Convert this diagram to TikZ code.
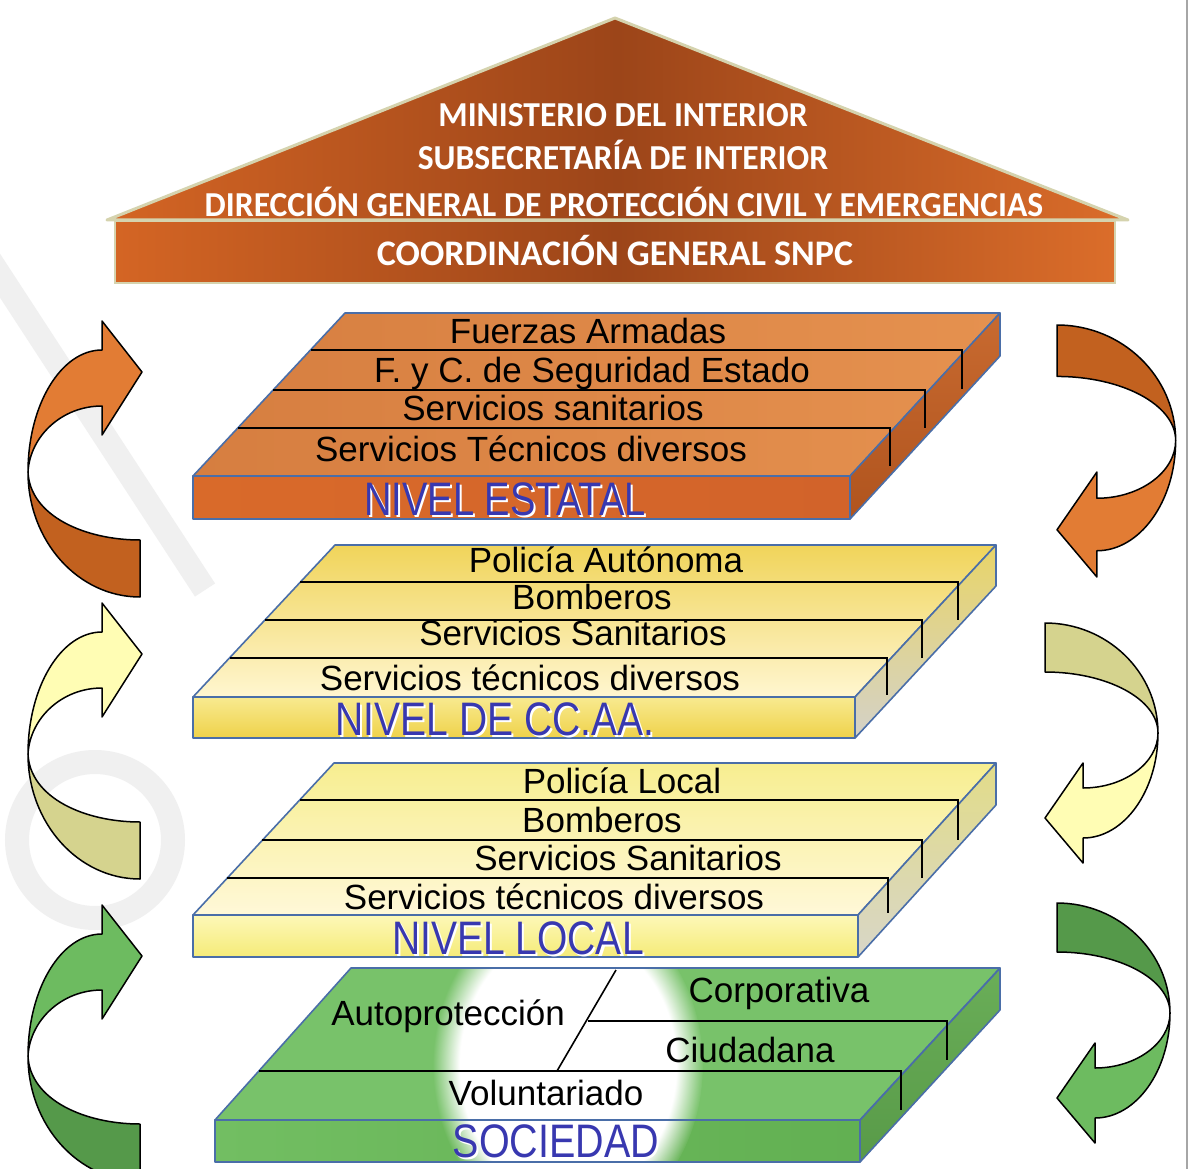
\documentclass[tikz,border=0pt]{standalone}
\usepackage{fontspec}
\setmainfont{Liberation Sans}
\newfontfamily\rooffont{Carlito}
\usepackage{graphicx}
\usetikzlibrary{fadings}

\definecolor{roofL}{HTML}{D46524}
\definecolor{roofM}{HTML}{9C4519}
\definecolor{roofR}{HTML}{DB6D2A}
\definecolor{roofedge}{HTML}{D5D3AE}
\definecolor{slabblue}{HTML}{4A6EA8}
\definecolor{lvlblue}{HTML}{3838B0}
\definecolor{oTopL}{HTML}{D67E40}
\definecolor{oTopM}{HTML}{BE6830}
\definecolor{oTopR}{HTML}{E5914F}
\definecolor{oFrL}{HTML}{D96A2A}
\definecolor{oFrM}{HTML}{B5551E}
\definecolor{oFrR}{HTML}{D2632A}
\definecolor{oSdT}{HTML}{C86A30}
\definecolor{oSdB}{HTML}{B0541E}
\definecolor{yTopT}{HTML}{F0D45A}
\definecolor{yTopB}{HTML}{FFF6D0}
\definecolor{yFrT}{HTML}{F8EA90}
\definecolor{yFrB}{HTML}{EFD24A}
\definecolor{ySdT}{HTML}{E8D468}
\definecolor{ySdB}{HTML}{D4D2C8}
\definecolor{lTopT}{HTML}{F7EE90}
\definecolor{lTopM}{HTML}{FFFFF4}
\definecolor{lTopB}{HTML}{FFF8D8}
\definecolor{lFrT}{HTML}{FDF8B8}
\definecolor{lFrB}{HTML}{F5EB78}
\definecolor{lSdT}{HTML}{E2DC88}
\definecolor{lSdB}{HTML}{D8D6C8}
\definecolor{gTop}{HTML}{78C26A}
\definecolor{gFrL}{HTML}{72BE62}
\definecolor{gFrR}{HTML}{62B052}
\definecolor{gSdT}{HTML}{6AAE58}
\definecolor{gSdB}{HTML}{589A48}
\definecolor{aOrL}{HTML}{E27C34}
\definecolor{aOrD}{HTML}{C2611F}
\definecolor{aYeL}{HTML}{FFFDB4}
\definecolor{aYeD}{HTML}{D5D38E}
\definecolor{aGrL}{HTML}{6DBB60}
\definecolor{aGrD}{HTML}{55994A}
\definecolor{wmgray}{HTML}{F0F0F0}

\tikzset{
  rowtxt/.style={anchor=base, inner sep=0pt, font=\fontsize{35}{40}\selectfont},
  lvltxt/.style={anchor=base, inner sep=0pt, text=lvlblue, font=\fontsize{47}{50}\selectfont},
  lvlshadow/.style={anchor=base, inner sep=0pt, text=white, font=\fontsize{47}{50}\selectfont},
  rooftxt/.style={anchor=base, inner sep=0pt, text=white, font=\rooffont\bfseries\fontsize{35}{40}\selectfont},
  slabedge/.style={draw=slabblue, line width=1.6pt, line join=round},
  rowline/.style={draw=black, line width=1.6pt},
  arrowpiece/.style={draw=black, line width=1.5pt, line join=round},
  wm/.style={draw=wmgray, line width=24pt},
}

\newcommand\LeftCurl[3]{%
  \begin{scope}[shift={(0,#1)}]
    \path[arrowpiece, fill=#3] (140,219) .. controls (85,219) and (30,195) .. (28,151)
      .. controls (28,220) and (78,276) .. (140,276) -- cycle;
    \path[arrowpiece, fill=#2] (28,151) .. controls (28,84) and (61,29) .. (102,29)
      -- (102,0) -- (142,51) -- (102,114) -- (102,85)
      .. controls (62,85) and (30,115) .. (28,151) -- cycle;
  \end{scope}}

\newcommand\RightCurl[5]{%
  \begin{scope}[shift={(#1,#2)}, scale=#3]
    \path[arrowpiece, fill=#4] (0,0) .. controls (62,0) and (113,49) .. (113,110)
      .. controls (113,76) and (62,49) .. (0,49) -- cycle;
    \path[arrowpiece, fill=#5] (113,110) .. controls (113,168) and (79,215) .. (38,215)
      -- (38,240) -- (0,195) -- (38,140) -- (38,165)
      .. controls (79,165) and (113,140) .. (113,110) -- cycle;
  \end{scope}}

\begin{document}
\begin{tikzpicture}[x=1pt, y=-1pt]
\useasboundingbox (0,0) rectangle (1191,1169);
\fill[white] (0,0) rectangle (1191,1169);

% watermark remnants
\draw[wm] (-20,245) -- (205,590);
\draw[wm] (95,840) circle (78);

% right border line
\draw[gray!70, line width=1.2pt] (1187,0) -- (1187,1169);

% ---------- roof ----------
\path[left color=roofL, right color=roofR, middle color=roofM, draw=roofedge, line width=1.2pt]
  (115,221) rectangle (1115,283);
\path[left color=roofL, right color=roofR, middle color=roofM]
  (107,220) -- (615,18) -- (1128,220) -- cycle;
\draw[roofedge, line width=3pt, line join=round] (107,220) -- (615,18) -- (1128,220) -- cycle;

\node[rooftxt] (r1) at (623,127) {\scalebox{0.96}[1]{MINISTERIO DEL INTERIOR}};
\node[rooftxt] (r2) at (623,170) {\scalebox{0.96}[1]{SUBSECRETARÍA DE INTERIOR}};
\node[rooftxt] (r3) at (624,216) {\scalebox{0.96}[1]{DIRECCIÓN GENERAL DE PROTECCIÓN CIVIL Y EMERGENCIAS}};
\node[rooftxt, font=\rooffont\bfseries\fontsize{36}{40}\selectfont] (r4) at (615,265) {COORDINACIÓN GENERAL SNPC};

% ---------- slab 1: NIVEL ESTATAL ----------
\path[slabedge, left color=oTopL, middle color=oTopM, right color=oTopR]
  (345,313) -- (1000,313) -- (850,476) -- (193,476) -- cycle;
\path[slabedge, left color=oFrL, middle color=oFrM, right color=oFrR]
  (193,476) rectangle (850,519);
\path[slabedge, top color=oSdT, bottom color=oSdB]
  (850,476) -- (1000,313) -- (1000,356) -- (850,519) -- cycle;
\draw[rowline] (311,350) -- (962,350) -- (962,389);
\draw[rowline] (273,390) -- (925,390) -- (925,428);
\draw[rowline] (238,428) -- (890,428) -- (890,466);
\node[rowtxt] (e1) at (588,343) {Fuerzas Armadas};
\node[rowtxt] (e2) at (592,382) {F. y C. de Seguridad Estado};
\node[rowtxt] (e3) at (553,420) {Servicios sanitarios};
\node[rowtxt] (e4) at (531,461) {Servicios Técnicos diversos};
\node[lvlshadow] (e5s) at (507,517) {\scalebox{0.81}[1]{NIVEL ESTATAL}};
\node[lvltxt] (e5) at (505,515) {\scalebox{0.81}[1]{NIVEL ESTATAL}};

% ---------- slab 2: NIVEL DE CC.AA. ----------
\path[slabedge, top color=yTopT, middle color=white, bottom color=yTopB]
  (335,545) -- (996,545) -- (855,697) -- (193,697) -- cycle;
\path[slabedge, top color=yFrT, bottom color=yFrB]
  (193,697) rectangle (855,738);
\path[slabedge, top color=ySdT, bottom color=ySdB]
  (855,697) -- (996,545) -- (996,586) -- (855,738) -- cycle;
\draw[rowline] (300,582) -- (958,582) -- (958,620);
\draw[rowline] (265,620) -- (922,620) -- (922,658);
\draw[rowline] (230,658) -- (887,658) -- (887,695);
\node[rowtxt] (c1) at (606,572) {Policía Autónoma};
\node[rowtxt] (c2) at (592,609) {Bomberos};
\node[rowtxt] (c3) at (573,645) {Servicios Sanitarios};
\node[rowtxt] (c4) at (530,690) {Servicios técnicos diversos};
\node[lvlshadow] (c5s) at (497,737) {\scalebox{0.83}[1]{NIVEL DE CC.AA.}};
\node[lvltxt] (c5) at (495,735) {\scalebox{0.83}[1]{NIVEL DE CC.AA.}};

% ---------- slab 3: NIVEL LOCAL ----------
\path[slabedge, top color=lTopT, middle color=lTopM, bottom color=lTopB]
  (334,763) -- (996,763) -- (858,915) -- (193,915) -- cycle;
\path[slabedge, top color=lFrT, bottom color=lFrB]
  (193,915) rectangle (858,957);
\path[slabedge, top color=lSdT, bottom color=lSdB]
  (858,915) -- (996,763) -- (996,805) -- (858,957) -- cycle;
\draw[rowline] (300,800) -- (958,800) -- (958,840);
\draw[rowline] (262,840) -- (922,840) -- (922,878);
\draw[rowline] (227,878) -- (888,878) -- (888,913);
\node[rowtxt] (l1) at (622,793) {Policía Local};
\node[rowtxt] (l2) at (602,832) {Bomberos};
\node[rowtxt] (l3) at (628,870) {Servicios Sanitarios};
\node[rowtxt] (l4) at (554,909) {Servicios técnicos diversos};
\node[lvlshadow] (l5s) at (520,956) {\scalebox{0.83}[1]{NIVEL LOCAL}};
\node[lvltxt] (l5) at (518,954) {\scalebox{0.83}[1]{NIVEL LOCAL}};

% ---------- slab 4: SOCIEDAD ----------
\path[fill=gTop] (351,968) -- (1000,968) -- (860,1120) -- (215,1120) -- cycle;
\path[left color=gFrL, right color=gFrR] (215,1120) rectangle (860,1162);
\path[top color=gSdT, bottom color=gSdB] (860,1120) -- (1000,968) -- (1000,1010) -- (860,1162) -- cycle;
\begin{scope}
  \clip (351,968) -- (1000,968) -- (1000,1010) -- (860,1162) -- (215,1162) -- (215,1120) -- cycle;
  \fill[white, path fading=circle with fuzzy edge 20 percent] (568,1065) ellipse (135 and 165);
\end{scope}
\path[slabedge] (351,968) -- (1000,968) -- (860,1120) -- (215,1120) -- cycle;
\path[slabedge] (215,1120) rectangle (860,1162);
\path[slabedge] (860,1120) -- (1000,968) -- (1000,1010) -- (860,1162) -- cycle;
\draw[rowline] (616,970) -- (557,1071);
\draw[rowline] (588,1021) -- (947,1021) -- (947,1060);
\draw[rowline] (259,1071) -- (901,1071) -- (901,1110);
\node[rowtxt] (s1) at (779,1002) {Corporativa};
\node[rowtxt] (s2) at (448,1025) {Autoprotección};
\node[rowtxt] (s3) at (750,1062) {Ciudadana};
\node[rowtxt] (s4) at (546,1105) {Voluntariado};
\node[lvlshadow] (s5s) at (558,1159) {\scalebox{0.84}[1]{SOCIEDAD}};
\node[lvltxt] (s5) at (556,1157) {\scalebox{0.84}[1]{SOCIEDAD}};

% ---------- curved arrows ----------
\LeftCurl{321}{aOrL}{aOrD}
\LeftCurl{603}{aYeL}{aYeD}
\LeftCurl{905}{aGrL}{aGrD}
\RightCurl{1057}{325}{1.05}{aOrD}{aOrL}
\RightCurl{1045}{623}{1}{aYeD}{aYeL}
\RightCurl{1057}{903}{1}{aGrD}{aGrL}
\end{tikzpicture}
\end{document}
